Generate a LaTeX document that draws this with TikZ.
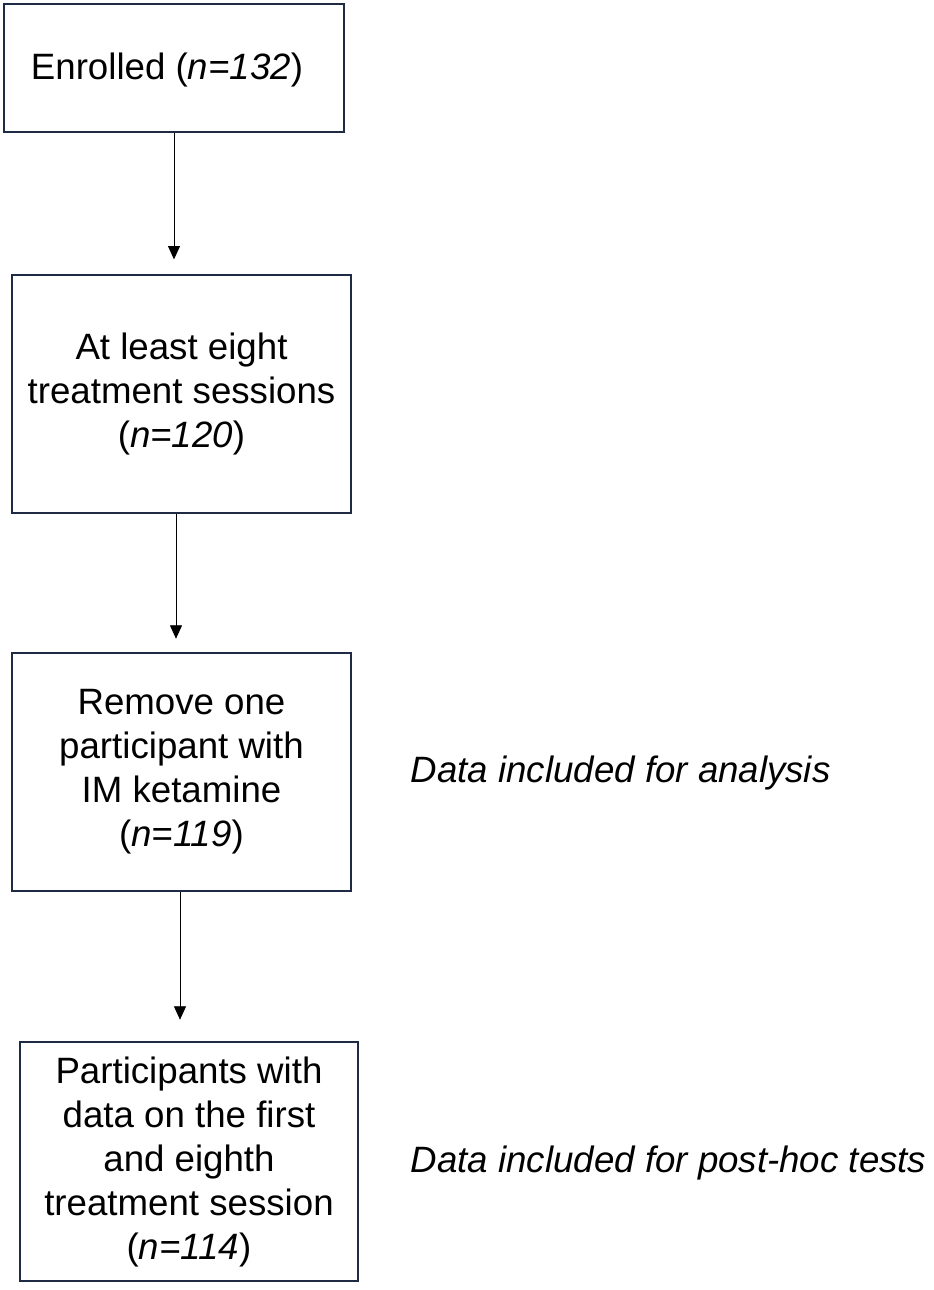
\documentclass[tikz,border=0pt]{standalone}
\usepackage{fontspec}
\setmainfont{Liberation Sans}
\usetikzlibrary{arrows.meta}
\definecolor{bx}{HTML}{1F2A44}
\begin{document}
\begin{tikzpicture}[x=0.75pt,y=-0.75pt,
 box/.style={draw=bx,line width=1.5pt,inner sep=0pt,align=center,font=\fontsize{27.5}{33}\selectfont},
 lab/.style={anchor=west,font=\fontsize{27.5}{33}\selectfont\itshape},
 arr/.style={-{Triangle[length=10pt,width=9pt]},line width=0.6pt}]
\useasboundingbox (0,0) rectangle (934,1290);
\node[box,minimum width=340*0.75pt,minimum height=128*0.75pt] (a) at (174,68) {};
\node (at) at (167,70) {\fontsize{27.5}{33}\selectfont Enrolled (\textit{n=132})};
\node[box,minimum width=339*0.75pt,minimum height=238*0.75pt] (b) at (181.5,394) {At least eight\\treatment sessions\\(\textit{n=120})};
\node[box,minimum width=339*0.75pt,minimum height=238*0.75pt] (c) at (181.5,772) {Remove one\\participant with\\IM ketamine\\(\textit{n=119})};
\node[box,minimum width=338*0.75pt,minimum height=239*0.75pt] (d) at (189,1161.5) {Participants with\\data on the first\\and eighth\\treatment session\\(\textit{n=114})};
\node[lab] (l1) at (406,773) {Data included for analysis};
\node[lab] (l2) at (406,1163) {Data included for post-hoc tests};
\draw[arr,shorten >=11pt] (a.south -| 174,0) -- (b.north -| 174,0);
\draw[arr,shorten >=10pt] (b.south -| 176,0) -- (c.north -| 176,0);
\draw[arr,shorten >=16pt] (c.south -| 180,0) -- (d.north -| 180,0);
\end{tikzpicture}
\end{document}
